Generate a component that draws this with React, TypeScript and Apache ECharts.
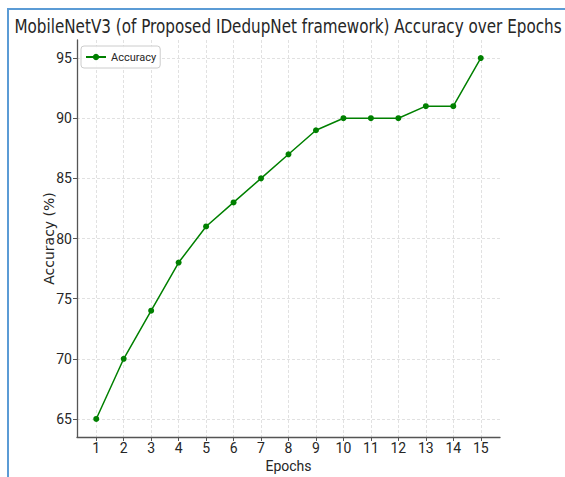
import React, { useEffect, useRef } from 'react';
import * as echarts from 'echarts';

const epochs = [1, 2, 3, 4, 5, 6, 7, 8, 9, 10, 11, 12, 13, 14, 15];
const accuracy = [65, 70, 74, 78, 81, 83, 85, 87, 89, 90, 90, 90, 91, 91, 95];
const yTicks = [65, 70, 75, 80, 85, 90, 95];
const titleText = 'MobileNetV3 (of Proposed IDedupNet framework) Accuracy over Epochs';
const seriesName = 'Accuracy';
const xName = 'Epochs';
const yName = 'Accuracy (%)';

export default function App() {
  const ref = useRef<HTMLDivElement>(null);
  useEffect(() => {
    const chart = echarts.init(ref.current as HTMLDivElement, null, { renderer: 'svg' });
    const narrow = "Roboto, 'Liberation Sans', sans-serif";
    const axisColor = '#555555';
    const textColor = '#262626';
    const gridLine = { show: true, lineStyle: { color: '#d9d9d9', type: [3, 2], width: 0.8 } };
    chart.setOption({
      animation: false,
      backgroundColor: '#ffffff',
      graphic: [
        {
          type: 'rect',
          shape: { x: 8, y: 9, width: 700, height: 600 },
          style: { fill: 'none', stroke: '#5b9bd5', lineWidth: 2 },
          silent: true,
          z: 100,
        },
        {
          type: 'text',
          x: 288,
          y: 26,
          scaleX: 0.8,
          style: {
            text: titleText,
            x: 0,
            y: 0,
            align: 'center',
            verticalAlign: 'middle',
            fontFamily: "'DejaVu Sans', sans-serif",
            fontSize: 19,
            fill: textColor,
          },
        },
      ],
      legend: {
        left: 81,
        top: 46,
        orient: 'vertical',
        padding: [5, 4],
        itemWidth: 20,
        itemHeight: 8,
        borderColor: '#cccccc',
        borderWidth: 1,
        borderRadius: 3,
        backgroundColor: 'rgba(255,255,255,0.85)',
        textStyle: { fontFamily: narrow, fontSize: 11, lineHeight: 12, color: textColor },
        data: [seriesName],
      },
      grid: { left: 77, right: 65, top: 40, bottom: 40, outerBoundsMode: 'none', containLabel: false },
      xAxis: {
        type: 'value',
        min: 0.3,
        max: 15.7,
        name: xName,
        nameLocation: 'middle',
        nameGap: 22,
        nameMoveOverlap: false,
        nameTextStyle: { fontFamily: narrow, fontSize: 14, color: textColor },
        axisLine: { show: true, onZero: false, lineStyle: { color: axisColor, width: 1.3 } },
        axisTick: { show: true, inside: false, length: 4, customValues: epochs, lineStyle: { color: axisColor, width: 1 } },
        axisLabel: { customValues: epochs, margin: 4, fontFamily: narrow, fontSize: 14, color: textColor },
        splitLine: gridLine,
      },
      yAxis: {
        type: 'value',
        min: 63.5,
        max: 96.5,
        name: yName,
        nameLocation: 'middle',
        nameGap: 21,
        nameMoveOverlap: false,
        nameTextStyle: { fontFamily: "'DejaVu Sans', sans-serif", fontSize: 14, color: textColor },
        axisLine: { show: true, onZero: false, lineStyle: { color: axisColor, width: 1.3 } },
        axisTick: { show: true, inside: false, length: 4, customValues: yTicks, lineStyle: { color: axisColor, width: 1 } },
        axisLabel: { customValues: yTicks, margin: 5, fontFamily: narrow, fontSize: 14, color: textColor },
        splitLine: gridLine,
      },
      series: [
        {
          name: seriesName,
          type: 'line',
          data: epochs.map((e, i) => [e, accuracy[i]]),
          symbol: 'circle',
          symbolSize: 6,
          lineStyle: { color: '#008000', width: 1.5 },
          itemStyle: { color: '#008000' },
        },
      ],
    });
    return () => chart.dispose();
  }, []);
  return (
    <div
      ref={ref}
      style={{ position: 'fixed', left: 0, top: 0, width: 565, height: 477 }}
    />
  );
}
